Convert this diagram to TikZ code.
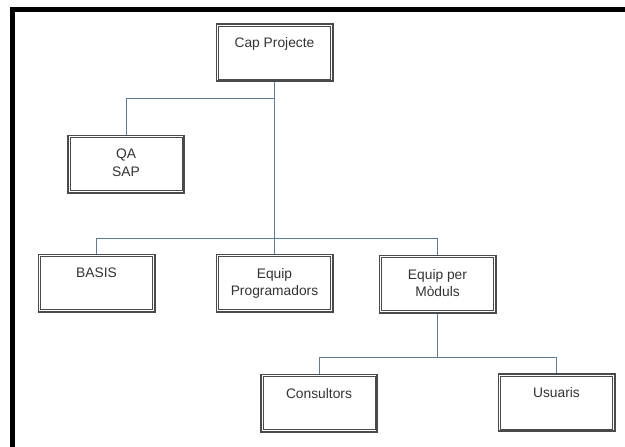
\documentclass[tikz,border=0pt]{standalone}
\usepackage{fontspec}
\setmainfont{Liberation Sans}
\definecolor{boxline}{HTML}{4A4A4A}
\definecolor{conn}{HTML}{5A7D99}
\definecolor{txtcol}{HTML}{333333}
\begin{document}
\begin{tikzpicture}[x=1pt,y=-1pt,
  orgbox/.style={draw=boxline, line width=1.6pt,
    minimum width=116.4pt, minimum height=57.4pt, inner sep=0pt, fill=white},
  innerline/.style={draw=boxline, line width=0.8pt},
  boxtxt/.style={anchor=north, inner sep=0pt, align=center, text=txtcol,
    font=\fontsize{13.8}{17.5}\selectfont},
  link/.style={draw=conn, line width=1pt}]
\useasboundingbox (0,0) rectangle (625,447);
\fill[white] (0,0) rectangle (625,447);
% frame
\fill[black] (10,7) rectangle (625,12);
\fill[black] (10,7) rectangle (15,447);
% boxes
\node[orgbox] (cap) at (274.5,52.5) {};
\node[orgbox] (qa) at (126,164) {};
\node[orgbox] (basis) at (96.5,283) {};
\node[orgbox] (ep) at (274.5,283) {};
\node[orgbox] (em) at (437.5,284) {};
\node[orgbox] (cons) at (319,403) {};
\node[orgbox] (usu) at (556.5,402.5) {};
\foreach \b in {cap,qa,basis,ep,em,cons,usu}{
  \draw[innerline] ([shift={(3,3)}]\b.north west) rectangle ([shift={(-3,-3)}]\b.south east);
}
% texts
\node[boxtxt] (capt) at ([yshift=-14.5pt]cap.north) {Cap Projecte};
\node[boxtxt] (qat) at ([yshift=-14.5pt]qa.north) {QA\\SAP};
\node[boxtxt] (basist) at ([yshift=-14.5pt]basis.north) {BASIS};
\node[boxtxt] (ept) at ([yshift=-14.5pt]ep.north) {Equip\\Programadors};
\node[boxtxt] (emt) at ([yshift=-14.5pt]em.north) {Equip per\\Mòduls};
\node[boxtxt] (const) at ([yshift=-14.5pt]cons.north) {Consultors};
\node[boxtxt] (usut) at ([yshift=-14.5pt]usu.north) {Usuaris};
% connectors
\coordinate (j1) at (274.5,98);
\coordinate (bus) at (0,238.5);
\coordinate (bus2) at (0,357);
\draw[link] (cap.south) -- (ep.north);
\draw[link] (j1) -| (qa.north);
\draw[link] (basis.north) -- (basis.north |- bus) -- (em.north |- bus) -- (em.north);
\draw[link] (em.south) -- (em.south |- bus2);
\draw[link] (cons.north) -- (cons.north |- bus2) -- (usu.north |- bus2) -- (usu.north);
\end{tikzpicture}
\end{document}
